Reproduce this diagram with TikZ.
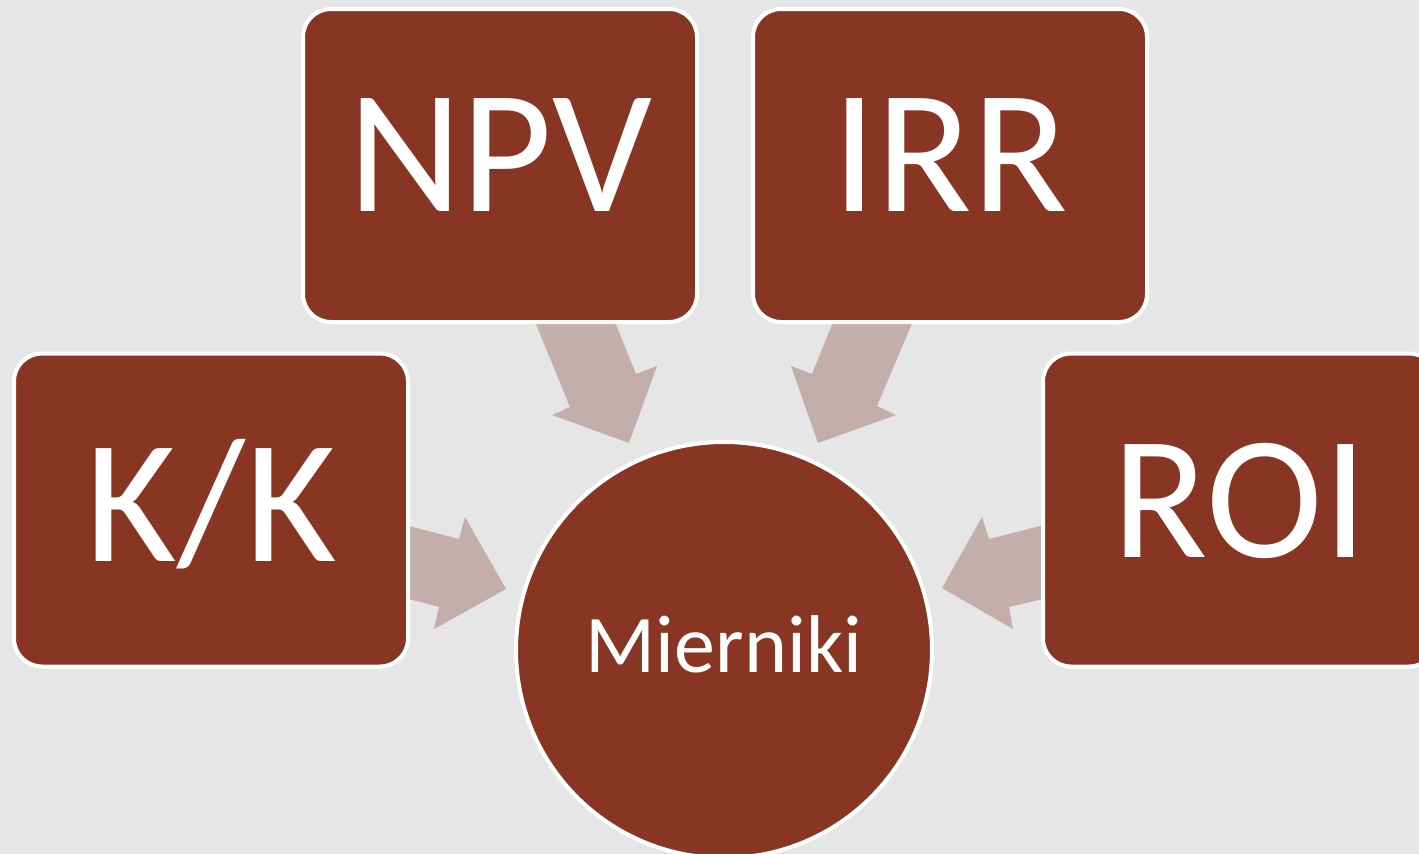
\documentclass[tikz,border=0pt]{standalone}
\usepackage{fontspec}
\setmainfont{Carlito}
\definecolor{boxred}{HTML}{893524}
\definecolor{arrowpink}{HTML}{C4AEAC}
\definecolor{bggray}{HTML}{E6E6E6}
\tikzset{
  box/.style={rectangle, rounded corners=28pt, fill=boxred, draw=white, line width=4pt,
    minimum width=394pt, minimum height=313pt, inner sep=0pt, text=white,
    text depth=20pt, font=\fontsize{176}{176}\selectfont},
  hub/.style={circle, fill=boxred, draw=white, line width=4pt, minimum size=416pt,
    inner sep=0pt, text=white, text depth=12pt, font=\fontsize{82}{82}\selectfont},
  fatarrow/.style={fill=arrowpink, draw=none}
}
\begin{document}
\begin{tikzpicture}[x=1pt,y=-1pt]
\useasboundingbox (0,0) rectangle (1419,854);
\clip (0,0) rectangle (1419,854);
\fill[bggray] (0,0) rectangle (1419,854);
% arrows (behind boxes)
\fill[fatarrow] (526,300) -- (570,407) -- (552,415) -- (629,443) -- (657,366) -- (636,374) -- (606,300) -- cycle;
\fill[fatarrow] (842,300) -- (812,374) -- (791,366) -- (818,443) -- (896,415) -- (877,406) -- (922,300) -- cycle;
\fill[fatarrow] (390,521) -- (459,539) -- (465,517) -- (506,589) -- (434,629) -- (439,607) -- (390,594) -- cycle;
\fill[fatarrow] (1060,521) -- (989,539) -- (982,517) -- (942,588) -- (1013,629) -- (1009,607) -- (1060,595) -- cycle;
% boxes
\node[box] (npv) at (500,165.5) {NPV};
\node[box] (irr) at (950,165.5) {IRR};
\node[box] (kk)  at (211,510) {K/K};
\node[box] (roi) at (1240,510) {ROI};
% hub
\node[hub] (mier) at (724,650) {Mierniki};
\end{tikzpicture}
\end{document}
